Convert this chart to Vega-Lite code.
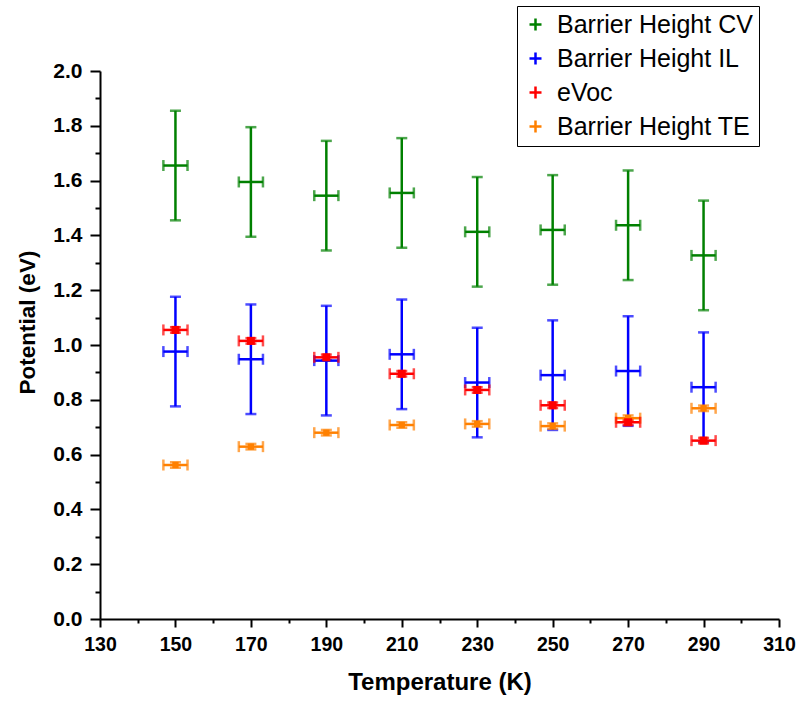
{
  "$schema": "https://vega.github.io/schema/vega-lite/v6.json",
  "width": 679,
  "height": 548,
  "autosize": "none",
  "padding": {"left": 100, "top": 71, "right": 19, "bottom": 88},
  "background": "white",
  "config": {
    "view": {"stroke": null},
    "font": "Liberation Sans",
    "axis": {
      "grid": false,
      "domainColor": "black",
      "domainWidth": 2,
      "tickColor": "black",
      "tickWidth": 2,
      "labelFont": "Liberation Sans",
      "labelFontWeight": "bold",
      "labelColor": "black",
      "labelFlush": false,
      "labelOverlap": false,
      "titleFont": "Liberation Sans",
      "titleFontWeight": "bold",
      "titleColor": "black"
    }
  },
  "datasets": {
    "pts": [
      {"T": 150, "s": "Barrier Height CV", "v": 1.655, "vlo": 1.455, "vhi": 1.855, "Tlo": 146.8, "Thi": 153.2},
      {"T": 170, "s": "Barrier Height CV", "v": 1.595, "vlo": 1.395, "vhi": 1.795, "Tlo": 166.8, "Thi": 173.2},
      {"T": 190, "s": "Barrier Height CV", "v": 1.545, "vlo": 1.345, "vhi": 1.745, "Tlo": 186.8, "Thi": 193.2},
      {"T": 210, "s": "Barrier Height CV", "v": 1.555, "vlo": 1.355, "vhi": 1.755, "Tlo": 206.8, "Thi": 213.2},
      {"T": 230, "s": "Barrier Height CV", "v": 1.413, "vlo": 1.213, "vhi": 1.613, "Tlo": 226.8, "Thi": 233.2},
      {"T": 250, "s": "Barrier Height CV", "v": 1.42, "vlo": 1.22, "vhi": 1.62, "Tlo": 246.8, "Thi": 253.2},
      {"T": 270, "s": "Barrier Height CV", "v": 1.437, "vlo": 1.237, "vhi": 1.637, "Tlo": 266.8, "Thi": 273.2},
      {"T": 290, "s": "Barrier Height CV", "v": 1.327, "vlo": 1.127, "vhi": 1.527, "Tlo": 286.8, "Thi": 293.2},
      {"T": 150, "s": "Barrier Height IL", "v": 0.976, "vlo": 0.776, "vhi": 1.176, "Tlo": 146.8, "Thi": 153.2},
      {"T": 170, "s": "Barrier Height IL", "v": 0.948, "vlo": 0.748, "vhi": 1.148, "Tlo": 166.8, "Thi": 173.2},
      {"T": 190, "s": "Barrier Height IL", "v": 0.943, "vlo": 0.743, "vhi": 1.143, "Tlo": 186.8, "Thi": 193.2},
      {"T": 210, "s": "Barrier Height IL", "v": 0.966, "vlo": 0.766, "vhi": 1.166, "Tlo": 206.8, "Thi": 213.2},
      {"T": 230, "s": "Barrier Height IL", "v": 0.863, "vlo": 0.663, "vhi": 1.063, "Tlo": 226.8, "Thi": 233.2},
      {"T": 250, "s": "Barrier Height IL", "v": 0.89, "vlo": 0.69, "vhi": 1.09, "Tlo": 246.8, "Thi": 253.2},
      {"T": 270, "s": "Barrier Height IL", "v": 0.905, "vlo": 0.705, "vhi": 1.105, "Tlo": 266.8, "Thi": 273.2},
      {"T": 290, "s": "Barrier Height IL", "v": 0.846, "vlo": 0.646, "vhi": 1.046, "Tlo": 286.8, "Thi": 293.2},
      {"T": 150, "s": "Barrier Height TE", "v": 0.562, "vlo": 0.552, "vhi": 0.572, "Tlo": 146.8, "Thi": 153.2},
      {"T": 170, "s": "Barrier Height TE", "v": 0.629, "vlo": 0.619, "vhi": 0.639, "Tlo": 166.8, "Thi": 173.2},
      {"T": 190, "s": "Barrier Height TE", "v": 0.68, "vlo": 0.67, "vhi": 0.69, "Tlo": 186.8, "Thi": 193.2},
      {"T": 210, "s": "Barrier Height TE", "v": 0.708, "vlo": 0.698, "vhi": 0.718, "Tlo": 206.8, "Thi": 213.2},
      {"T": 230, "s": "Barrier Height TE", "v": 0.712, "vlo": 0.702, "vhi": 0.722, "Tlo": 226.8, "Thi": 233.2},
      {"T": 250, "s": "Barrier Height TE", "v": 0.704, "vlo": 0.694, "vhi": 0.714, "Tlo": 246.8, "Thi": 253.2},
      {"T": 270, "s": "Barrier Height TE", "v": 0.733, "vlo": 0.723, "vhi": 0.743, "Tlo": 266.8, "Thi": 273.2},
      {"T": 290, "s": "Barrier Height TE", "v": 0.769, "vlo": 0.759, "vhi": 0.779, "Tlo": 286.8, "Thi": 293.2},
      {"T": 150, "s": "eVoc", "v": 1.055, "vlo": 1.045, "vhi": 1.065, "Tlo": 146.8, "Thi": 153.2},
      {"T": 170, "s": "eVoc", "v": 1.015, "vlo": 1.005, "vhi": 1.025, "Tlo": 166.8, "Thi": 173.2},
      {"T": 190, "s": "eVoc", "v": 0.955, "vlo": 0.945, "vhi": 0.965, "Tlo": 186.8, "Thi": 193.2},
      {"T": 210, "s": "eVoc", "v": 0.895, "vlo": 0.885, "vhi": 0.905, "Tlo": 206.8, "Thi": 213.2},
      {"T": 230, "s": "eVoc", "v": 0.836, "vlo": 0.826, "vhi": 0.846, "Tlo": 226.8, "Thi": 233.2},
      {"T": 250, "s": "eVoc", "v": 0.78, "vlo": 0.77, "vhi": 0.79, "Tlo": 246.8, "Thi": 253.2},
      {"T": 270, "s": "eVoc", "v": 0.718, "vlo": 0.708, "vhi": 0.728, "Tlo": 266.8, "Thi": 273.2},
      {"T": 290, "s": "eVoc", "v": 0.651, "vlo": 0.641, "vhi": 0.661, "Tlo": 286.8, "Thi": 293.2}
    ]
  },
  "data": {"name": "pts"},
  "encoding": {
    "x": {
      "field": "T",
      "type": "quantitative",
      "scale": {"domain": [130, 310], "nice": false, "zero": false},
      "axis": {
        "title": "Temperature (K)",
        "values": [130, 140, 150, 160, 170, 180, 190, 200, 210, 220, 230, 240, 250, 260, 270, 280, 290, 300, 310],
        "labelExpr": "datum.value % 20 == 10 ? datum.label : ''",
        "tickSize": {"condition": {"test": "datum.value % 20 != 10", "value": 4}, "value": 8},
        "labelFontSize": 19.5,
        "labelPadding": 8,
        "titleFontSize": 24,
        "titlePadding": 17
      }
    },
    "y": {
      "field": "v",
      "type": "quantitative",
      "scale": {"domain": [0, 2], "nice": false, "zero": false},
      "axis": {
        "title": "Potential (eV)",
        "values": [0, 0.1, 0.2, 0.3, 0.4, 0.5, 0.6, 0.7, 0.8, 0.9, 1.0, 1.1, 1.2, 1.3, 1.4, 1.5, 1.6, 1.7, 1.8, 1.9, 2.0],
        "labelExpr": "round(datum.value * 10) % 2 == 0 ? format(datum.value, '.1f') : ''",
        "tickSize": {"condition": {"test": "round(datum.value * 10) % 2 == 1", "value": 5}, "value": 10},
        "labelFontSize": 21,
        "labelPadding": 8,
        "titleFontSize": 22.5,
        "titleAngle": 270,
        "titleBaseline": "middle",
        "titleAlign": "center",
        "titleX": -73,
        "titleY": 251
      }
    },
    "color": {
      "field": "s",
      "type": "nominal",
      "scale": {
        "domain": ["Barrier Height CV", "Barrier Height IL", "eVoc", "Barrier Height TE"],
        "range": ["#008000", "#0000ff", "#ff0000", "#ff8000"]
      },
      "legend": {
        "title": null,
        "orient": "none",
        "legendX": 417,
        "legendY": -65,
        "symbolType": "M-1,0H1M0,-1V1",
        "symbolSize": 144,
        "symbolStrokeWidth": 2.5,
        "symbolFillColor": "transparent",
        "symbolOpacity": 1,
        "labelFont": "Liberation Sans",
        "labelFontSize": 25,
        "labelColor": "black",
        "labelOffset": 9,
        "labelLimit": 400,
        "strokeColor": "black",
        "fillColor": "white",
        "padding": 6,
        "rowPadding": 8
      }
    }
  },
  "layer": [
    {
      "layer": [
        {
          "mark": {"type": "rule", "strokeWidth": 2.5},
          "encoding": {"y": {"field": "vlo"}, "y2": {"field": "vhi"}}
        },
        {
          "mark": {"type": "tick", "orient": "horizontal", "thickness": 2.5, "size": 11},
          "encoding": {"y": {"field": "vlo"}}
        },
        {
          "mark": {"type": "tick", "orient": "horizontal", "thickness": 2.5, "size": 11},
          "encoding": {"y": {"field": "vhi"}}
        },
        {
          "mark": {"type": "rule", "strokeWidth": 2.5},
          "encoding": {"x": {"field": "Tlo"}, "x2": {"field": "Thi"}}
        },
        {
          "mark": {"type": "tick", "orient": "vertical", "thickness": 2.5, "size": 11},
          "encoding": {"x": {"field": "Tlo"}}
        },
        {
          "mark": {"type": "tick", "orient": "vertical", "thickness": 2.5, "size": 11},
          "encoding": {"x": {"field": "Thi"}}
        }
      ]
    },
    {
      "transform": [{"filter": "datum.s == 'Barrier Height TE'"}],
      "mark": {"type": "square", "size": 40, "filled": true, "opacity": 1}
    },
    {
      "transform": [{"filter": "datum.s == 'eVoc'"}],
      "mark": {"type": "square", "size": 64, "filled": true, "opacity": 1}
    }
  ]
}
